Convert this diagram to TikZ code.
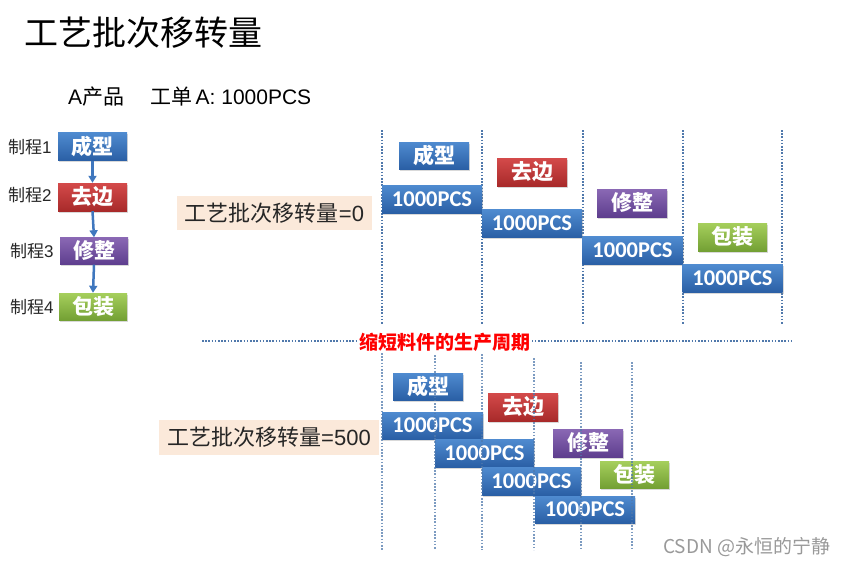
\documentclass[tikz,border=0pt]{standalone}
\usepackage{fontspec}
\setmainfont{Noto Sans CJK SC}
\newfontfamily\pcsfont{Carlito}
\newfontfamily\latn{Liberation Sans}
\usetikzlibrary{shadows,arrows.meta}
\definecolor{blueT}{HTML}{4F8BD0}
\definecolor{blueB}{HTML}{2A5FA5}
\definecolor{redT}{HTML}{D44A4A}
\definecolor{redB}{HTML}{A82A2A}
\definecolor{purT}{HTML}{8A68B4}
\definecolor{purB}{HTML}{5E3E8E}
\definecolor{grnT}{HTML}{A6CF5C}
\definecolor{grnB}{HTML}{73A034}
\definecolor{lineC}{HTML}{5079AC}
\definecolor{arrC}{HTML}{3F77BE}
\definecolor{beige}{HTML}{FBE9DA}
\begin{document}
\begin{tikzpicture}[x=1pt,y=-1pt,
  box/.style={inner sep=0pt, text=white, font=\bfseries\fontsize{21}{22}\selectfont,
    drop shadow={opacity=0.3, shadow xshift=1pt, shadow yshift=-1.5pt}},
  procb/.style={box, minimum width=70pt, minimum height=28pt},
  pcs/.style={box, top color=blueT, bottom color=blueB, minimum width=100pt, minimum height=28pt,
    font=\pcsfont\bfseries\fontsize{22.5}{23}\selectfont},
  bluebox/.style={procb, top color=blueT, bottom color=blueB},
  redbox/.style={procb, top color=redT, bottom color=redB},
  purbox/.style={procb, top color=purT, bottom color=purB},
  grnbox/.style={procb, top color=grnT, bottom color=grnB},
  steplbl/.style={anchor=west, inner sep=0pt, font=\fontsize{17}{19}\selectfont, text=black!85},
  lotlbl/.style={fill=beige, inner sep=0pt, font=\fontsize{22}{24}\selectfont, text=black!85},
  vline/.style={draw=lineC, line width=1.6pt, dash pattern=on 1.6pt off 1.6pt},
  flow/.style={draw=arrC, line width=2.5pt, -{Triangle[length=7pt,width=8pt]}}
]
\useasboundingbox (0,0) rectangle (850,565);

% title
\node[anchor=west, inner sep=0pt, font=\fontsize{34}{36}\selectfont] (title) at (24,33) {工艺批次移转量};
\node[anchor=west, inner sep=0pt, font=\fontsize{21}{23}\selectfont] (prod) at (68,97) {{\latn A}产品};
\node[anchor=west, inner sep=0pt, font=\fontsize{21}{23}\selectfont] (order) at (150,97) {工单\,{\latn A: 1000PCS}};

% left process chain
\node[steplbl] (s1) at (8,147) {制程{\latn 1}};
\node[steplbl] (s2) at (8,195) {制程{\latn 2}};
\node[steplbl] (s3) at (10,251) {制程{\latn 3}};
\node[steplbl] (s4) at (10,307) {制程{\latn 4}};
\node[bluebox, minimum width=69pt] (L1) at (92.5,146.5) {成型};
\node[redbox, minimum width=69pt] (L2) at (92.5,197) {去边};
\node[purbox, minimum width=68pt, minimum height=27pt] (L3) at (94,251) {修整};
\node[grnbox, minimum width=68pt, minimum height=27pt] (L4) at (93,306.5) {包装};
\draw[flow] (L1.south) -- (L2.north);
\draw[flow] (L2.south) -- (L3.north);
\draw[flow] (L3.south) -- (L4.north);

% top section
\foreach \x in {382,482,583,683,782} \draw[vline] (\x,130) -- (\x,325);
\node[lotlbl, minimum width=195pt, minimum height=34pt] (lot0) at (274.5,213) {工艺批次移转量{\latn =0}};
\node[pcs] (t1) at (432,199) {1000PCS};
\node[pcs] (t2) at (532,223.5) {1000PCS};
\node[pcs] (t3) at (632.5,250.5) {1000PCS};
\node[pcs] (t4) at (732.5,278.5) {1000PCS};
\node[bluebox, minimum height=27pt] (tp1) at (434,155.5) {成型};
\node[redbox] (tp2) at (532,172) {去边};
\node[purbox] (tp3) at (632,203) {修整};
\node[grnbox, minimum width=69pt] (tp4) at (732.5,237) {包装};

% divider
\draw[vline] (202,341) -- (792,341);
\node[fill=white, inner sep=1pt, text=red, font=\bfseries\fontsize{19}{20}\selectfont] (msg) at (445,342) {缩短料件的生产周期};

% bottom section
\node[lotlbl, minimum width=220pt, minimum height=35pt] (lot500) at (269,437.5) {工艺批次移转量{\latn =500}};
\node[bluebox, minimum height=27pt] (bp1) at (428,386.5) {成型};
\node[redbox] (bp2) at (523,407) {去边};
\node[purbox] (bp3) at (588,443) {修整};
\node[grnbox, minimum width=69pt, minimum height=27pt] (bp4) at (634.5,474.5) {包装};
\node[pcs, minimum width=101pt, minimum height=27pt] (b1) at (432.5,425.5) {1000PCS};
\node[pcs, minimum width=99pt] (b2) at (484.5,453) {1000PCS};
\node[pcs, minimum width=99pt] (b3) at (531.5,481) {1000PCS};
\node[pcs, minimum height=27pt] (b4) at (585,509.5) {1000PCS};
\foreach \x/\y in {382/353,435/355,482/354,534/358,581/362,632/362} \draw[vline, draw opacity=0.75] (\x,\y) -- (\x,550);

% watermark
\node[anchor=west, inner sep=0pt, text=black!40, font=\fontsize{19}{21}\selectfont] (wm) at (663,547) {CSDN @永恒的宁静};
\end{tikzpicture}
\end{document}
